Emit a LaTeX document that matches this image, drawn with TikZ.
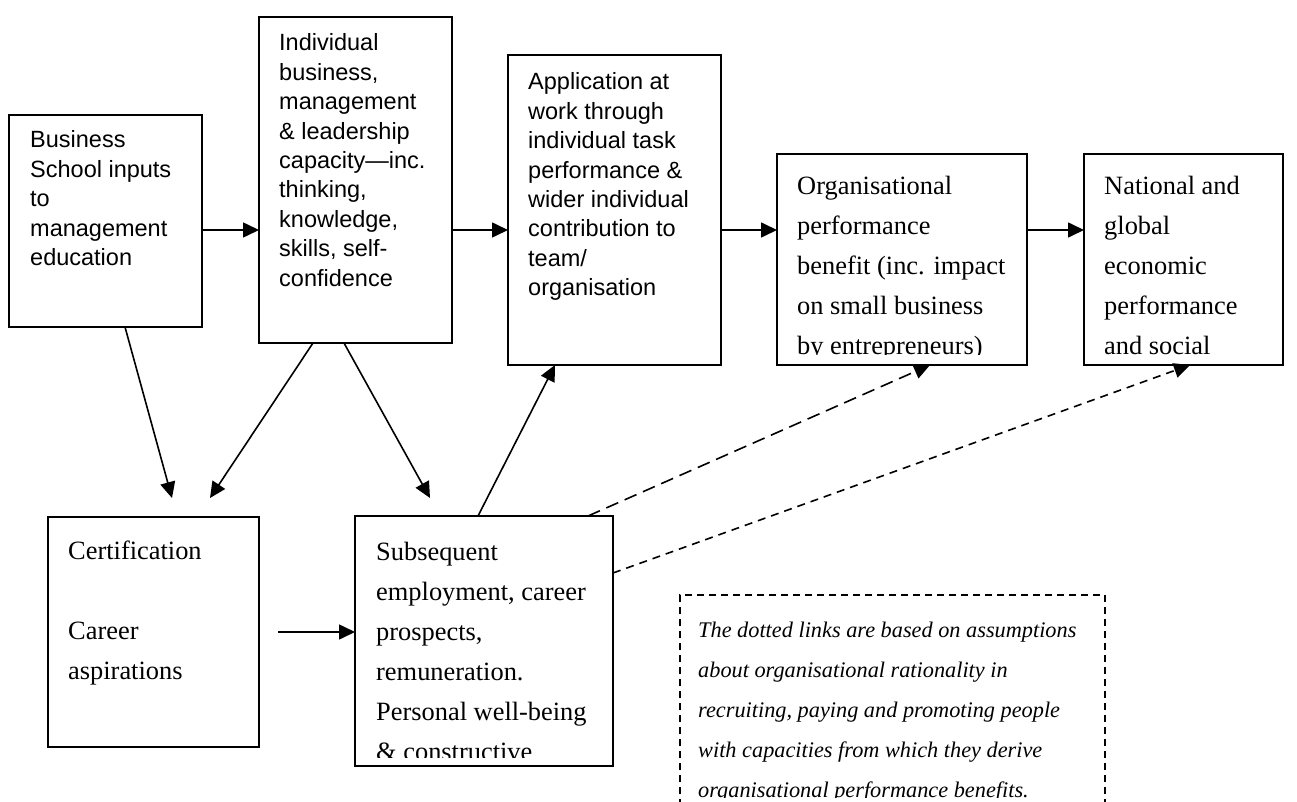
\documentclass[tikz,border=0pt]{standalone}
\usepackage{fontspec}
\setmainfont{Liberation Serif}
\newfontfamily\arialfont{Liberation Sans}
\usetikzlibrary{arrows.meta,calc}

\tikzset{
  box/.style={draw, line width=1.6pt, inner sep=0pt, outer sep=0pt, anchor=north west},
  notebox/.style={draw, line width=1.4pt, dash pattern=on 7pt off 5pt, inner sep=0pt, outer sep=0pt, anchor=north west},
  sanstext/.style={inner sep=0pt, anchor=base west, font=\arialfont\fontsize{23.5}{29.4}\selectfont},
  seriftext/.style={inner sep=0pt, anchor=base west, font=\fontsize{26.4}{40}\selectfont},
  notetext/.style={inner sep=0pt, anchor=base west, font=\itshape\fontsize{22.3}{40}\selectfont},
  link/.style={line width=1.6pt, -{Triangle[length=16pt,width=15pt]}},
  dashlink/.style={link, dash pattern=on 13pt off 7pt},
  dotlink/.style={link, dash pattern=on 8pt off 6pt},
}
% multi-line text block whose baseline is that of its first line
\newcommand\lines[1]{\parbox[t]{420pt}{\raggedright #1}}

\begin{document}
\begin{tikzpicture}[x=1pt,y=-1pt]
\useasboundingbox (0,0) rectangle (1297,802);
\clip (0,0) rectangle (1297,802);

% boxes
\node[box, minimum width=193, minimum height=212] (A) at (9,115) {};
\node[box, minimum width=193, minimum height=326] (B) at (259,17) {};
\node[box, minimum width=213, minimum height=310] (C) at (508,55) {};
\node[box, minimum width=250, minimum height=211] (D) at (777,154) {};
\node[box, minimum width=199, minimum height=211] (E) at (1084,154) {};
\node[box, minimum width=211, minimum height=230] (F) at (48,517) {};
\node[box, minimum width=258, minimum height=250] (G) at (355,516) {};
\node[notebox, minimum width=425, minimum height=230] (N) at (680,595) {};

% box texts
\node[sanstext] (At) at ($(A.north west)+(21,33)$)
  {\lines{Business\\School inputs\\to\\management\\education}};
\node[sanstext] (Bt) at ($(B.north west)+(20,34)$)
  {\lines{Individual\\business,\\management\\\& leadership\\capacity—inc.\\thinking,\\knowledge,\\skills, self-\\confidence}};
\node[sanstext] (Ct) at ($(C.north west)+(20,35)$)
  {\lines{Application at\\work through\\individual task\\performance \&\\wider individual\\contribution to\\team/\\organisation}};

\begin{scope}
  \clip (D.north west) rectangle ($(D.south east)+(0,-11)$);
  \node[seriftext] (Dt) at ($(D.north west)+(20,41)$)
    {\lines{Organisational\\performance\\benefit (inc. impact\\on small business\\by entrepreneurs)}};
\end{scope}
\begin{scope}
  \clip (E.north west) rectangle ($(E.south east)+(0,-11)$);
  \node[seriftext] (Et) at ($(E.north west)+(20,41)$)
    {\lines{National and\\global\\economic\\performance\\and social}};
\end{scope}

\node[seriftext] (Ft) at ($(F.north west)+(20,42)$)
  {\lines{Certification\\[40pt]Career\\aspirations}};

\begin{scope}
  \clip (G.north west) rectangle ($(G.south east)+(0,-9)$);
  \node[seriftext] (Gt) at ($(G.north west)+(21,44)$)
    {\lines{Subsequent\\employment, career\\prospects,\\remuneration.\\Personal well-being\\\& constructive}};
\end{scope}

\begin{scope}
  \clip (N.north west) rectangle ($(N.north east)+(0,202)$);
  \node[notetext] (Nt) at ($(N.north west)+(18,42)$)
    {\lines{The dotted links are based on assumptions\\about organisational rationality in\\recruiting, paying and promoting people\\with capacities from which they derive\\organisational performance benefits.}};
\end{scope}

% main chain
\draw[link] ($(A.north east)+(0,115)$) -- ($(B.north west)+(0,213)$);
\draw[link] ($(B.north east)+(0,213)$) -- ($(C.north west)+(0,175)$);
\draw[link] ($(C.north east)+(0,175)$) -- ($(D.north west)+(0,76)$);
\draw[link] ($(D.north east)+(0,76)$) -- ($(E.north west)+(0,76)$);

% links to and from the lower boxes
\draw[link] ($(A.south west)+(116,0)$) -- ($(F.north west)+(124,-19)$);
\draw[link] ($(B.south west)+(54,0)$) -- ($(F.north west)+(162,-19)$);
\draw[link] ($(B.south west)+(85,0)$) -- ($(G.north west)+(75,-18)$);
\draw[link] ($(G.north west)+(123,0)$) -- ($(C.south west)+(47,0)$);
\draw[link] ($(F.north east)+(19,115)$) -- ($(G.north west)+(0,116)$);

% assumed links
\draw[dashlink] ($(G.north west)+(233,0)$) -- ($(D.south west)+(153,0)$);
\draw[dotlink] ($(G.north east)+(0,57)$) -- ($(E.south west)+(106,0)$);
\end{tikzpicture}
\end{document}
